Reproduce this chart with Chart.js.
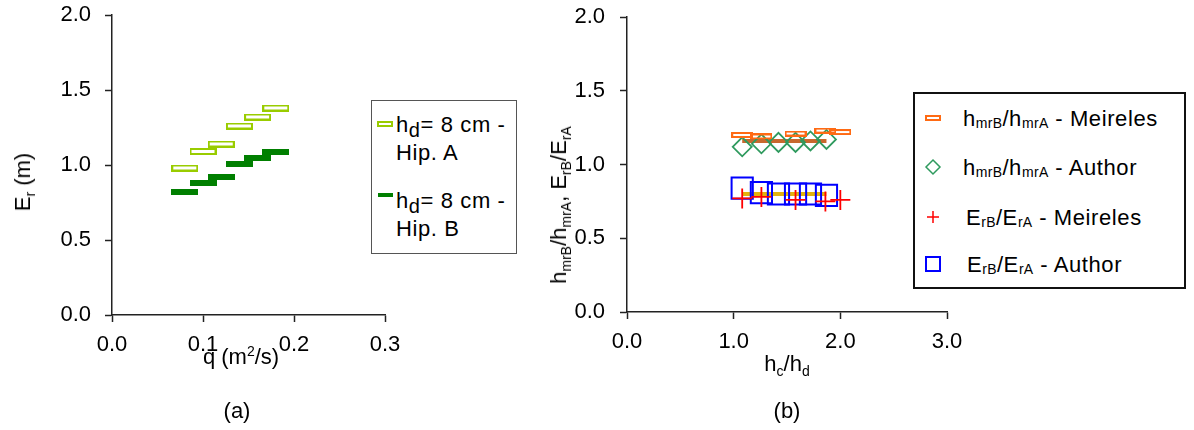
<!DOCTYPE html>
<html>
<head>
<meta charset="utf-8">
<script src="https://cdn.jsdelivr.net/npm/chart.js@4/dist/chart.umd.min.js"></script>
<style>
  body { margin: 0; background: #fff; }
  #page { position: relative; width: 1194px; height: 430px; overflow: hidden; background: #fff;
          font-family: 'Liberation Sans', Arial, sans-serif; color: #000; }
  .plot { position: absolute; }
  .txt { position: absolute; white-space: nowrap; font-size: 22px; line-height: 22px; }
  .narrow { font-family: 'Liberation Sans Narrow', 'Liberation Sans', sans-serif; }
  .sub { font-size: 14px; position: relative; top: 5px; }
  .sup { font-size: 14px; position: relative; top: -8px; }
  .legend { position: absolute; box-sizing: border-box; background: #fff; }
  .legend canvas { position: absolute; }
  .legend .txt { letter-spacing: 0.6px; }
  .lsub { font-size: 14px; position: relative; top: 2px; letter-spacing: 0.3px; }
</style>
</head>
<body>
<div id="page">
  <div class="plot" style="left:0;top:0;width:410px;height:380px"><canvas id="chartA"></canvas></div>
  <div class="plot" style="left:500px;top:0;width:470px;height:380px"><canvas id="chartB"></canvas></div>

  <!-- (a) titles -->
  <div class="txt" style="left:24px;top:182px;transform:translate(-50%,-50%) rotate(-90deg)">E<span class="sub">r</span> (m)</div>
  <div class="txt" style="left:241px;top:346px;transform:translateX(-50%)">q (m<span class="sup">2</span>/s)</div>
  <div class="txt" style="left:237px;top:400px;transform:translateX(-50%)">(a)</div>

  <!-- (a) legend -->
  <div class="legend" id="legA" style="left:371px;top:100px;width:146px;height:154px;border:1.5px solid #555">
    <div class="txt" style="left:24px;top:13px">h<span style="font-size:20px;position:relative;top:5px">d</span>= 8 cm -</div>
    <div class="txt" style="left:24px;top:41px">Hip. A</div>
    <div class="txt" style="left:24px;top:89px">h<span style="font-size:20px;position:relative;top:5px">d</span>= 8 cm -</div>
    <div class="txt" style="left:24px;top:117px">Hip. B</div>
  </div>

  <!-- (b) titles -->
  <div class="txt narrow" style="left:560px;top:205px;transform:translate(-50%,-50%) rotate(-90deg)">h<span class="sub">mrB</span>/h<span class="sub">mrA</span>, E<span class="sub">rB</span>/E<span class="sub">rA</span></div>
  <div class="txt narrow" style="left:787px;top:353px;transform:translateX(-50%)">h<span class="sub">c</span>/h<span class="sub">d</span></div>
  <div class="txt" style="left:787px;top:400px;transform:translateX(-50%)">(b)</div>

  <!-- (b) legend -->
  <div class="legend" id="legB" style="left:913px;top:92px;width:273px;height:197px;border:2px solid #111">
    <div class="txt" style="left:48px;top:14px">h<span class="lsub">mrB</span>/h<span class="lsub">mrA</span> - Meireles</div>
    <div class="txt" style="left:48px;top:63px">h<span class="lsub">mrB</span>/h<span class="lsub">mrA</span> - Author</div>
    <div class="txt" style="left:51px;top:113px">E<span class="lsub">rB</span>/E<span class="lsub">rA</span> - Meireles</div>
    <div class="txt" style="left:52px;top:160px">E<span class="lsub">rB</span>/E<span class="lsub">rA</span> - Author</div>
  </div>
</div>

<script>
// (a) run-up energy against unit discharge, hd = 8 cm
var qValues = [0.08, 0.10, 0.12, 0.14, 0.16, 0.18];
var erHipA  = [0.98, 1.09, 1.14, 1.26, 1.32, 1.38];
var erHipB  = [0.82, 0.88, 0.92, 1.01, 1.05, 1.09];

// (b) B/A ratios against hc/hd
var hcHdMeireles     = [1.08, 1.26, 1.58, 1.86, 2.00];
var hmrRatioMeireles = [1.20, 1.19, 1.21, 1.23, 1.22];
var erRatioMeireles  = [0.77, 0.78, 0.76, 0.75, 0.76];

var hcHdAuthor     = [1.08, 1.26, 1.42, 1.58, 1.72, 1.87];
var hmrRatioAuthor = [1.12, 1.14, 1.15, 1.15, 1.16, 1.17];
var erRatioAuthor  = [0.84, 0.81, 0.80, 0.80, 0.80, 0.79];

// mean lines
var meanSpan     = [1.08, 1.87];
var hmrMeanLine  = [1.16, 1.16];
var erMeanLine   = [0.80, 0.80];

// tick labels
var xTicksA = [0.0, 0.1, 0.2, 0.3];
var xTicksB = [0.0, 1.0, 2.0, 3.0];
var yTicks  = [0.0, 0.5, 1.0, 1.5, 2.0];

var LIGHT_GREEN = '#99cc00';
var DARK_GREEN  = '#007f00';
var ORANGE      = '#ff6a13';
var SEA_GREEN   = '#2f9a5e';

function toPoints(xs, ys) {
  return xs.map(function(x, i) { return { x: x, y: ys[i] }; });
}

// flat bar marker (outlined or filled) used as a point style
function barMarker(w, h, color, filled) {
  var c = document.createElement('canvas');
  c.width = w; c.height = h;
  var ctx = c.getContext('2d');
  if (filled) {
    ctx.fillStyle = color;
    ctx.fillRect(0, 0, w, h);
  } else {
    ctx.strokeStyle = color;
    ctx.lineWidth = 2;
    ctx.strokeRect(1, 1, w - 2, h - 2);
  }
  return c;
}

// small legend swatches
function legendMark(parent, cx, cy, draw) {
  var c = document.createElement('canvas');
  c.width = 24; c.height = 24;
  c.style.left = (cx - 12) + 'px';
  c.style.top = (cy - 12) + 'px';
  parent.appendChild(c);
  draw(c.getContext('2d'));
}

function ticksFrom(list) {
  return function(scale) {
    scale.ticks = list.map(function(v) { return { value: v }; });
  };
}

function axis(ticksList, fontFamily, fitSize, isX, min, max, pad) {
  return {
    type: 'linear',
    min: min,
    max: max,
    afterBuildTicks: ticksFrom(ticksList),
    afterFit: function(scale) {
      if (isX) scale.height = fitSize; else scale.width = fitSize;
      // keep the plot box fixed; labels may hang over the edges
      scale.paddingTop = scale.paddingBottom = 0;
      scale.paddingLeft = scale.paddingRight = 0;
    },
    ticks: {
      color: '#000',
      font: { family: fontFamily, size: 22 },
      padding: pad,
      maxRotation: 0,
      autoSkip: false,
      callback: function(v) { return Number(v).toFixed(1); }
    },
    grid: {
      drawOnChartArea: false,
      drawTicks: true,
      tickLength: 7,
      tickWidth: 1.5,
      tickColor: '#222'
    },
    border: { color: '#222', width: 1.5 }
  };
}

var SANS = "'Liberation Sans', Arial, sans-serif";
var NARROW = "'Liberation Sans Narrow', 'Liberation Sans', sans-serif";

// ---- chart (a)
new Chart(document.getElementById('chartA'), {
  type: 'scatter',
  data: {
    datasets: [
      {
        label: 'hd = 8 cm - Hip. A',
        data: toPoints(qValues, erHipA),
        pointStyle: barMarker(27, 7, LIGHT_GREEN, false),
        pointRadius: 10
      },
      {
        label: 'hd = 8 cm - Hip. B',
        data: toPoints(qValues, erHipB),
        pointStyle: barMarker(27, 6, DARK_GREEN, true),
        pointRadius: 10
      }
    ]
  },
  options: {
    responsive: true,
    maintainAspectRatio: false,
    animation: false,
    events: [],
    layout: { padding: { top: 15, right: 25, left: 0, bottom: 0 } },
    scales: {
      x: axis(xTicksA, SANS, 65, true, 0, 0.3, 10),
      y: axis(yTicks, SANS, 112, false, 0, 2, 14)
    },
    plugins: { legend: { display: false }, tooltip: { enabled: false } }
  }
});

// ---- chart (b)
new Chart(document.getElementById('chartB'), {
  type: 'scatter',
  data: {
    datasets: [
      {
        label: 'hmrB/hmrA - Meireles',
        data: toPoints(hcHdMeireles, hmrRatioMeireles),
        pointStyle: barMarker(22, 6, ORANGE, false),
        pointRadius: 10,
        order: 1
      },
      {
        label: 'hmrB/hmrA - Author',
        data: toPoints(hcHdAuthor, hmrRatioAuthor),
        pointStyle: 'rectRot',
        pointRadius: 9.5,
        borderColor: SEA_GREEN,
        backgroundColor: 'transparent',
        borderWidth: 1.8,
        order: 1
      },
      {
        label: 'ErB/ErA - Meireles',
        data: toPoints(hcHdMeireles, erRatioMeireles),
        pointStyle: 'cross',
        pointRadius: 10,
        borderColor: '#ff0000',
        borderWidth: 1.8,
        order: 1
      },
      {
        label: 'ErB/ErA - Author',
        data: toPoints(hcHdAuthor, erRatioAuthor),
        pointStyle: 'rect',
        pointRadius: 15,
        borderColor: '#0000ff',
        backgroundColor: 'transparent',
        borderWidth: 2,
        order: 1
      },
      {
        label: 'hmr mean',
        data: toPoints(meanSpan, hmrMeanLine),
        showLine: true,
        pointRadius: 0,
        borderColor: '#c8692e',
        borderWidth: 4,
        order: 5
      },
      {
        label: 'Er mean',
        data: toPoints(meanSpan, erMeanLine),
        showLine: true,
        pointRadius: 0,
        borderColor: '#e3b20c',
        borderWidth: 4,
        order: 5
      }
    ]
  },
  options: {
    responsive: true,
    maintainAspectRatio: false,
    animation: false,
    events: [],
    layout: { padding: { top: 15, right: 23, left: 0, bottom: 0 } },
    scales: {
      x: axis(xTicksB, NARROW, 68, true, 0, 3, 10),
      y: axis(yTicks, NARROW, 127, false, 0, 2, 15)
    },
    plugins: { legend: { display: false }, tooltip: { enabled: false } }
  }
});

// ---- legend swatches
var legA = document.getElementById('legA');
legendMark(legA, 13, 23, function(ctx) {
  ctx.strokeStyle = LIGHT_GREEN; ctx.lineWidth = 2;
  ctx.strokeRect(5, 10, 14, 4);
});
legendMark(legA, 13, 94, function(ctx) {
  ctx.fillStyle = DARK_GREEN;
  ctx.fillRect(5, 10, 15, 4);
});

var legB = document.getElementById('legB');
legendMark(legB, 18, 24, function(ctx) {
  ctx.strokeStyle = ORANGE; ctx.lineWidth = 2;
  ctx.strokeRect(5, 10, 14, 4);
});
legendMark(legB, 18, 73, function(ctx) {
  ctx.strokeStyle = SEA_GREEN; ctx.lineWidth = 1.5;
  ctx.beginPath();
  ctx.moveTo(12, 5); ctx.lineTo(19, 12); ctx.lineTo(12, 19); ctx.lineTo(5, 12); ctx.closePath();
  ctx.stroke();
});
legendMark(legB, 18, 123, function(ctx) {
  ctx.strokeStyle = '#ff0000'; ctx.lineWidth = 1.5;
  ctx.beginPath();
  ctx.moveTo(6, 12); ctx.lineTo(18, 12);
  ctx.moveTo(12, 6); ctx.lineTo(12, 18);
  ctx.stroke();
});
legendMark(legB, 18, 170, function(ctx) {
  ctx.strokeStyle = '#0000ff'; ctx.lineWidth = 2;
  ctx.strokeRect(5, 5, 14, 14);
});
</script>
</body>
</html>
